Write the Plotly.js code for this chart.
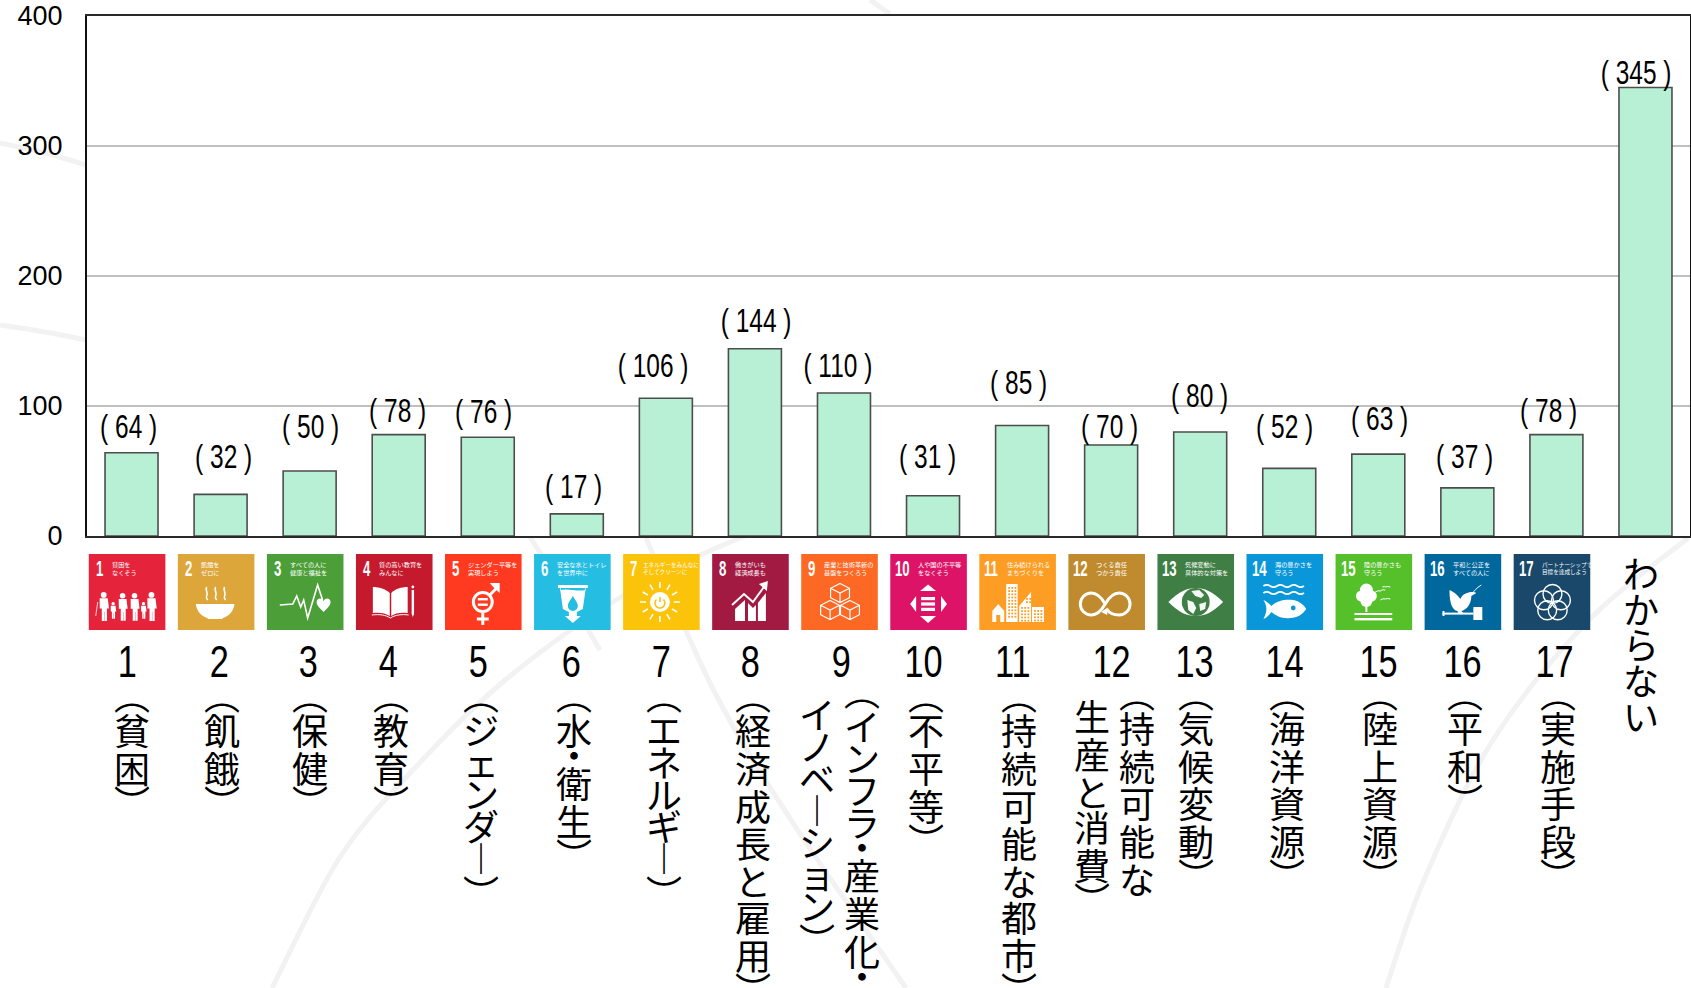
<!DOCTYPE html>
<html><head><meta charset="utf-8">
<script src="https://cdn.plot.ly/plotly-3.0.1.min.js"></script>
<style>html,body{margin:0;padding:0;background:#fff}#c{width:1691px;height:988px}</style></head>
<body><div id="c"></div>
<script>
// ---- data ----
const categories = ["1","2","3","4","5","6","7","8","9","10","11","12","13","14","15","16","17","わからない"];
const counts = [64,32,50,78,76,17,106,144,110,31,85,70,80,52,63,37,78,345];
const yTicks = [0,100,200,300,400];
const shortNames = [["（貧困）"],["（飢餓）"],["（保健）"],["（教育）"],["（ジェンダー）"],["（水・衛生）"],["（エネルギー）"],["（経済成長と雇用）"],["（インフラ・産業化・","イノベーション）"],["（不平等）"],["（持続可能な都市）"],["（持続可能な","生産と消費）"],["（気候変動）"],["（海洋資源）"],["（陸上資源）"],["（平和）"],["（実施手段）"],["わからない"]];
const goalCaptions = ["貧困を<br>なくそう","飢餓を<br>ゼロに","すべての人に<br>健康と福祉を","質の高い教育を<br>みんなに","ジェンダー平等を<br>実現しよう","安全な水とトイレ<br>を世界中に","エネルギーをみんなに<br>そしてクリーンに","働きがいも<br>経済成長も","産業と技術革新の<br>基盤をつくろう","人や国の不平等<br>をなくそう","住み続けられる<br>まちづくりを","つくる責任<br>つかう責任","気候変動に<br>具体的な対策を","海の豊かさを<br>守ろう","陸の豊かさも<br>守ろう","平和と公正を<br>すべての人に","パートナーシップで<br>目標を達成しよう"];
const goalColors = ["#E5243B","#DDA63A","#4C9F38","#C5192D","#FF3A21","#26BDE2","#FCC30B","#A21942","#FD6925","#DD1367","#FD9D24","#BF8B2E","#3F7E44","#0A97D9","#56C02B","#00689D","#19486A"];

// ---- hand placement of the labels, in pixels ----
const valueShiftX = [-3,3,1,-1,-4,-3,-13,1,-6,-6,-4,-2,-1,-5,1,-3,-8,-9];
const valueLift = [27,38,45,25,26,28,33,29,28,40,44,19,37,42,36,32,25,16];
const numberShiftX = [-4.5,-1.6,-2,-10.7,-9.7,-5.8,-4.4,-5.4,-3,-10,-8.6,0,-6,-4.3,0,-4.4,-1.5];
const nameShiftX = [[0],[1.4],[0.4],[-8],[-6.7],[-2.8],[-1.9],[-2.4],[18,-27],[-7.5],[-3],[26,-19],[-4],[-2],[2],[-2],[1.5],[-4.5]];
const nameTop = [[729],[729],[729],[729],[729],[729],[729],[729],[725,713],[729],[729],[726.7,715],[726.7],[726.7],[726.7],[726.7],[726.7],[571.7]];

// ---- frame ----
const M = {l:87,r:1,t:16,b:452};
const PW = 1691-M.l-M.r, PH = 988-M.t-M.b;
const px = x => (x-M.l)/PW, py = y => (M.t+PH-y)/PH;
const fontJP = '"Noto Sans CJK JP","Noto Sans",sans-serif';
const fontNum = '"Liberation Sans",sans-serif';

// ---- tile pictograms, drawn in a 77×76 tile ----
function person(x,top,h){const r=h*0.12,w=h*0.17;return `<circle cx="${x}" cy="${top+r}" r="${r}"/><path d="M${x-w} ${top+2.2*r}h${2*w}l${w*.3} ${h*.42}h${-w*.5}v${h*.52}h${-w*.6}v${-h*.38}h${-.3}v${h*.38}h${-w*.6}v${-h*.52}h${-w*.5}z"/>`;}
function rays(cx,cy,a,b,n){let s='';for(let i=0;i<n;i++){const t=i*2*Math.PI/n;s+=`<line x1="${cx+a*Math.sin(t)}" y1="${cy-a*Math.cos(t)}" x2="${cx+b*Math.sin(t)}" y2="${cy-b*Math.cos(t)}"/>`;}return s;}
function cube(x,y,s){return `<path d="M${x} ${y-s}L${x+s} ${y-s/2}V${y+s/2}L${x} ${y+s}L${x-s} ${y+s/2}V${y-s/2}ZM${x-s} ${y-s/2}L${x} ${y}L${x+s} ${y-s/2}M${x} ${y}V${y+s}"/>`;}
function petals(cx,cy,d,r){let s='';for(let i=0;i<5;i++){const t=i*2*Math.PI/5;s+=`<circle cx="${cx+d*Math.sin(t)}" cy="${cy-d*Math.cos(t)}" r="${r}"/>`;}return s;}
function win(x,y,cols,rows,c){let s='';for(let i=0;i<cols;i++)for(let j=0;j<rows;j++)s+=`<rect x="${x+i*3.2}" y="${y+j*3.2}" width="1.8" height="1.8" fill="${c}"/>`;return s;}
const pict = [
 c=>`<g fill="#fff">${person(15,38,24)}${person(34,39,23)}${person(46,39,23)}${person(63,38,24)}${person(24.5,48,14)}${person(55,48,14)}</g><line x1="7" y1="62" x2="9" y2="48" stroke="#fff" stroke-width=".8"/>`,
 c=>`<path d="M18 50H57C56 58 50 63 45 64V65H30V64C25 63 19 58 18 50Z" fill="#fff"/><g fill="none" stroke="#fff" stroke-width="1.6"><path d="M29 33c-2 3 2 6 0 9c-1 2 0 3 1 4M38 33c-2 3 2 6 0 9c-1 2 0 3 1 4M47 33c-2 3 2 6 0 9c-1 2 0 3 1 4"/></g>`,
 c=>`<polyline points="13,51 26,50 30,42 34,53 37,46 41,64 51,31 56,46" fill="none" stroke="#fff" stroke-width="1.6"/><path d="M57 58C52 53 50 51 50 48C50 44 55 43 57 47C59 43 64 44 64 48C64 51 62 53 57 58Z" fill="#fff"/>`,
 c=>`<path d="M17 33C23 33 30 35 34 39V62C30 59 23 58 17 59ZM52 33C46 33 39 35 35.5 39V62C39 59 46 58 52 59Z" fill="#fff"/><path d="M16 61C24 60 30 61 34.7 64C39 61 46 60 53 61" fill="none" stroke="#fff"/><rect x="56" y="36" width="2.4" height="24" fill="#fff"/><circle cx="57.2" cy="33" r="1.4" fill="#fff"/><path d="M56 60h2.4l-1.2 3z" fill="#fff"/>`,
 c=>`<circle cx="38" cy="48" r="9.5" fill="none" stroke="#fff" stroke-width="3"/><path d="M45 41L52 34" stroke="#fff" stroke-width="3"/><path d="M45 29H55V39L51 35.5L48.5 33Z" fill="#fff"/><path d="M38 59V71M32 65H44" stroke="#fff" stroke-width="3"/><rect x="33" y="44" width="10" height="2.4" fill="#fff"/><rect x="33" y="49.5" width="10" height="2.4" fill="#fff"/>`,
 c=>`<path d="M24 31H54V34H52L49 55L43 58V62H47L39 69L31 62H35V58L29 55L26 34H24Z" fill="#fff"/><path d="M26.5 34H51.5L51 36C45 38 33 34 27 36Z" fill="${c}"/><path d="M39 42C42 47 44 49 44 52A5 5 0 0 1 34 52C34 49 36 47 39 42Z" fill="${c}"/>`,
 c=>`<circle cx="37" cy="48" r="10" fill="#fff"/><g stroke="#fff" stroke-width="1.6">${rays(37,48,14,20,12)}</g><path d="M33.5 45.5A5 5 0 1 0 40.5 45.5M37 43V48" fill="none" stroke="${c}" stroke-width="1.6"/>`,
 c=>`<path d="M24 54L33 46V67H23V55Z" fill="#fff"/><path d="M36 49L41 54L44 51V67H36Z" fill="#fff"/><path d="M46 49L54 39V67H46Z" fill="#fff"/><path d="M20 51L32 40L41 48L52 33" fill="none" stroke="#fff" stroke-width="2"/><path d="M47 30L56 27L55 37Z" fill="#fff"/>`,
 c=>`<g fill="none" stroke="#fff" stroke-width="1.2"><g>${cube(39,39,9.5)}</g><g>${cube(29,56,9.5)}</g><g>${cube(49,56,9.5)}</g></g>`,
 c=>`<g fill="#fff"><path d="M38 30.5L46 37H30Z"/><path d="M38 69L46 62H30Z"/><path d="M20 50L26 42V58Z"/><path d="M57 50L51 42V58Z"/><rect x="31" y="43" width="14" height="3.2"/><rect x="31" y="48.4" width="14" height="3.2"/><rect x="31" y="53.8" width="14" height="3.2"/></g>`,
 c=>`<g fill="#fff"><path d="M13 57L19 50L25 57V68H13Z"/><rect x="27" y="30" width="11.5" height="38"/><path d="M40 68V52L52 38V68Z"/><rect x="53" y="53" width="12" height="15"/></g>${win(29,33,3,10,c)}${win(42,53,3,5,c)}${win(47,44,2,2,c)}${win(55,56,3,4,c)}<rect x="17" y="61" width="4" height="7" fill="${c}"/>`,
 c=>`<path d="M37 50C33 43 28 39 23 39A11 11 0 0 0 23 61C28 61 33 57 37 50C41 43 46 39 51 39A11 11 0 0 1 51 61C46 61 41 59 38.5 55" fill="none" stroke="#fff" stroke-width="3"/><path d="M33 58L39 61L39.5 53.5Z" fill="#fff"/>`,
 c=>`<path d="M11 48C22 37 30 34 38.5 34C47 34 55 37 66 48C55 59 47 62 38.5 62C30 62 22 59 11 48Z" fill="#fff"/><circle cx="38.5" cy="48" r="14" fill="${c}"/><path d="M34 37l8 -1l5 5l-3 3l-6 -2zM30 46l6 2l3 6l-3 6l-5 -4zM42 50l7 -2l-1 7l-5 2z" fill="#fff" opacity=".95"/>`,
 c=>`<g fill="none" stroke="#fff" stroke-width="1.8"><path d="M17 32q3.4 -2.4 6.8 0t6.8 0t6.8 0t6.8 0t6.8 0t6.8 0"/><path d="M17 39q3.4 -2.4 6.8 0t6.8 0t6.8 0t6.8 0t6.8 0t6.8 0"/></g><path d="M17 46C20 47 23 50 25 52C31 46 40 45 47 46C53 47 58 51 60 55C57 60 51 64 44 64C36 65 30 62 25 58C23 61 20 64 17 65C19 61 20 58 20 55C20 52 19 49 17 46Z" fill="#fff"/><circle cx="47" cy="54" r="2.4" fill="${c}"/>`,
 c=>`<g fill="#fff"><circle cx="31" cy="36" r="6.5"/><circle cx="26" cy="42" r="5.5"/><circle cx="36" cy="42" r="5.5"/><circle cx="31" cy="47" r="6"/><rect x="30" y="50" width="2" height="8"/><rect x="19" y="59" width="38" height="2"/><rect x="19" y="64" width="38" height="2.4"/></g><g fill="none" stroke="#fff" stroke-width="1"><path d="M40 38q3 -2 5 -1q2 -2 5 -1M47 33q3 -1 3 0q2 -1 5 0M45 46q3 -2 5 -1q2 -1 5 0"/></g>`,
 c=>`<path d="M25 36C30 38 33 41 36 45C38 40 43 38 48 38C49 38 51 38 52 39L47 42C47 50 42 56 37 57L39 59H34L33 57C28 56 25 50 25 36Z" fill="#fff"/><path d="M47 40C50 37 52 34 57 31" fill="none" stroke="#fff" stroke-width="1"/><rect x="18" y="58.6" width="31" height="2" fill="#fff"/><rect x="18" y="57" width="2" height="5" fill="#fff"/><rect x="49" y="53" width="9" height="13" fill="#fff"/>`,
 c=>`<g fill="none" stroke="#fff" stroke-width="1.4">${petals(39,49,9,9.5)}</g>`
];
const tileImage = (i) => 'data:image/svg+xml;charset=utf-8,' + encodeURIComponent(
  `<svg xmlns="http://www.w3.org/2000/svg" width="77" height="76" viewBox="0 0 77 76">${pict[i](goalColors[i])}</svg>`);

// ---- faint background swooshes (pixel paths on the page) ----
const swooshes = [
 [[272,988],[340,857],[413,770],[497,687],[600,610],[690,560],[760,530]],
 [[906,988],[791,820],[715,693],[646,538]],
 [[1386,988],[1424,880],[1493,740],[1589,620],[1688,538]],
 [[0,143],[45,153],[86,165]],
 [[0,325],[45,332],[86,340]],
 [[530,537],[570,600],[600,650]],
 [[870,0],[890,14]]
];
// smooth curve through the points (Catmull-Rom to Bézier)
const swooshPath = pts => {
  const P = pts.map(p => [px(p[0]),py(p[1])]);
  let d = `M${P[0][0]},${P[0][1]}`;
  for (let i=0;i<P.length-1;i++){
    const a=P[Math.max(i-1,0)],b=P[i],c=P[i+1],e=P[Math.min(i+2,P.length-1)];
    d += `C${b[0]+(c[0]-a[0])/6},${b[1]+(c[1]-a[1])/6} ${c[0]-(e[0]-b[0])/6},${c[1]-(e[1]-b[1])/6} ${c[0]},${c[1]}`;
  }
  return d;
};

const shapes = [], images = [], annotations = [];
swooshes.forEach(p => shapes.push({type:'path',xref:'paper',yref:'paper',layer:'below',path:swooshPath(p),
  line:{color:'#f2f2f2',width:5}}));
shapes.push({type:'rect',xref:'paper',yref:'paper',x0:0,x1:1,y0:0,y1:1,layer:'below',fillcolor:'#fff',line:{width:0}});

const tileHalf = 0.43, tileShift = -0.05, tileTop = 554, tileBottom = 630;
goalColors.forEach((c,i) => {
  const x0 = i+tileShift-tileHalf, x1 = i+tileShift+tileHalf;
  shapes.push({type:'rect',xref:'x',yref:'paper',x0,x1,y0:py(tileBottom),y1:py(tileTop),fillcolor:c,line:{width:0},layer:'below'});
  images.push({source:tileImage(i),xref:'x',yref:'paper',x:x0,y:py(tileTop),sizex:x1-x0,sizey:py(tileTop)-py(tileBottom),
    xanchor:'left',yanchor:'top',sizing:'stretch',layer:'above'});
  // goal number and caption on the tile
  annotations.push({xref:'x',yref:'paper',x:x0,xanchor:'left',xshift:i<9?5:3,y:py(tileTop+14),yanchor:'middle',showarrow:false,
    text:String(i+1),font:{family:fontNum,size:22,color:'#fff',weight:700}});
  annotations.push({xref:'x',yref:'paper',x:x0,xanchor:'left',xshift:i===6?18:(i<9?21:26),y:py(tileTop+14),yanchor:'middle',align:'left',showarrow:false,
    text:goalCaptions[i],font:{family:fontJP,size:i===6||i===16?5.6:6.2,color:'#fff'}});
  // big number under the tile
  annotations.push({xref:'x',yref:'paper',x:i,xshift:numberShiftX[i],y:py(661),yanchor:'middle',showarrow:false,
    text:categories[i],font:{family:fontNum,size:44,color:'#000'}});
});

// value labels
counts.forEach((v,i) => annotations.push({xref:'x',yref:'y',x:i,y:v,xshift:valueShiftX[i],yshift:valueLift[i],yanchor:'middle',showarrow:false,
  text:`( ${v} )`,font:{family:fontNum,size:34,color:'#000'}}));

// vertical names, one annotation per character
const vertical = {'（':'︵','）':'︶','ー':'︱'};
const isKatakana = c => /[\u30a0-\u30ff]/.test(c) && c!=='・';
const isHiragana = c => /[\u3040-\u309f]/.test(c);
const pitch = (c,n) => c==='・' ? 28 : n==='・' ? 25 : isKatakana(c) ? 32 : isHiragana(c) ? 35.8 : 37.8;
const OPEN_GAP = 35, CLOSE_GAP = 34;
shortNames.forEach((cols,i) => cols.forEach((col,k) => {
  const chars = [...col];
  const body = chars.filter(c => c!=='（' && c!=='）');
  let y = nameTop[i][k], centers = [];
  body.forEach((c,j) => { centers.push(y); y += pitch(c,body[j+1]); });
  const put = (c,yy) => annotations.push({xref:'x',yref:'paper',x:i,xshift:nameShiftX[i][k],y:py(yy),yanchor:'middle',showarrow:false,
    text:vertical[c]||c,font:{family:fontJP,size:36,color:'#000'}});
  if (chars[0]==='（') put('（',centers[0]-OPEN_GAP);
  body.forEach((c,j) => put(c,centers[j]));
  if (chars[chars.length-1]==='）') put('）',centers[centers.length-1]+CLOSE_GAP);
}));

Plotly.newPlot('c',[{
  type:'bar',x:categories,y:counts,
  marker:{color:'#B8F0D5',line:{color:'#4d4d4d',width:1.6}},
  hoverinfo:'x+y'
}],{
  width:1691,height:988,margin:M,paper_bgcolor:'#fff',plot_bgcolor:'#fff',
  showlegend:false,bargap:0.405,
  xaxis:{type:'category',categoryorder:'array',categoryarray:categories,range:[-0.5,17.5],showticklabels:false,ticks:'',
    showline:true,mirror:true,linecolor:'#2a2a2a',linewidth:2.4,showgrid:false,zeroline:false},
  yaxis:{range:[0,400],tickvals:yTicks,ticktext:yTicks.map(String),ticks:'',showline:true,mirror:true,linecolor:'#111',linewidth:2,
    gridcolor:'#BFBFBF',gridwidth:2,zeroline:false,ticklabelstandoff:17,
    tickfont:{family:'"Liberation Sans",sans-serif',size:27,color:'#000'}},
  shapes,images,annotations
},{staticPlot:true,displayModeBar:false}).then(() => {
  // the reference's digits are half-width: condense the digit labels horizontally
  const narrow = {44:0.78, 34:0.72, 22:0.6};
  document.querySelectorAll('#c .annotation-text').forEach(t => {
    const s = parseFloat(t.style.fontSize), f = narrow[s];
    if (f){ t.style.transformBox='fill-box'; t.style.transformOrigin = s===22 ? 'left center' : 'center center'; t.style.transform=`scaleX(${f})`; }
  });
});
</script></body></html>
